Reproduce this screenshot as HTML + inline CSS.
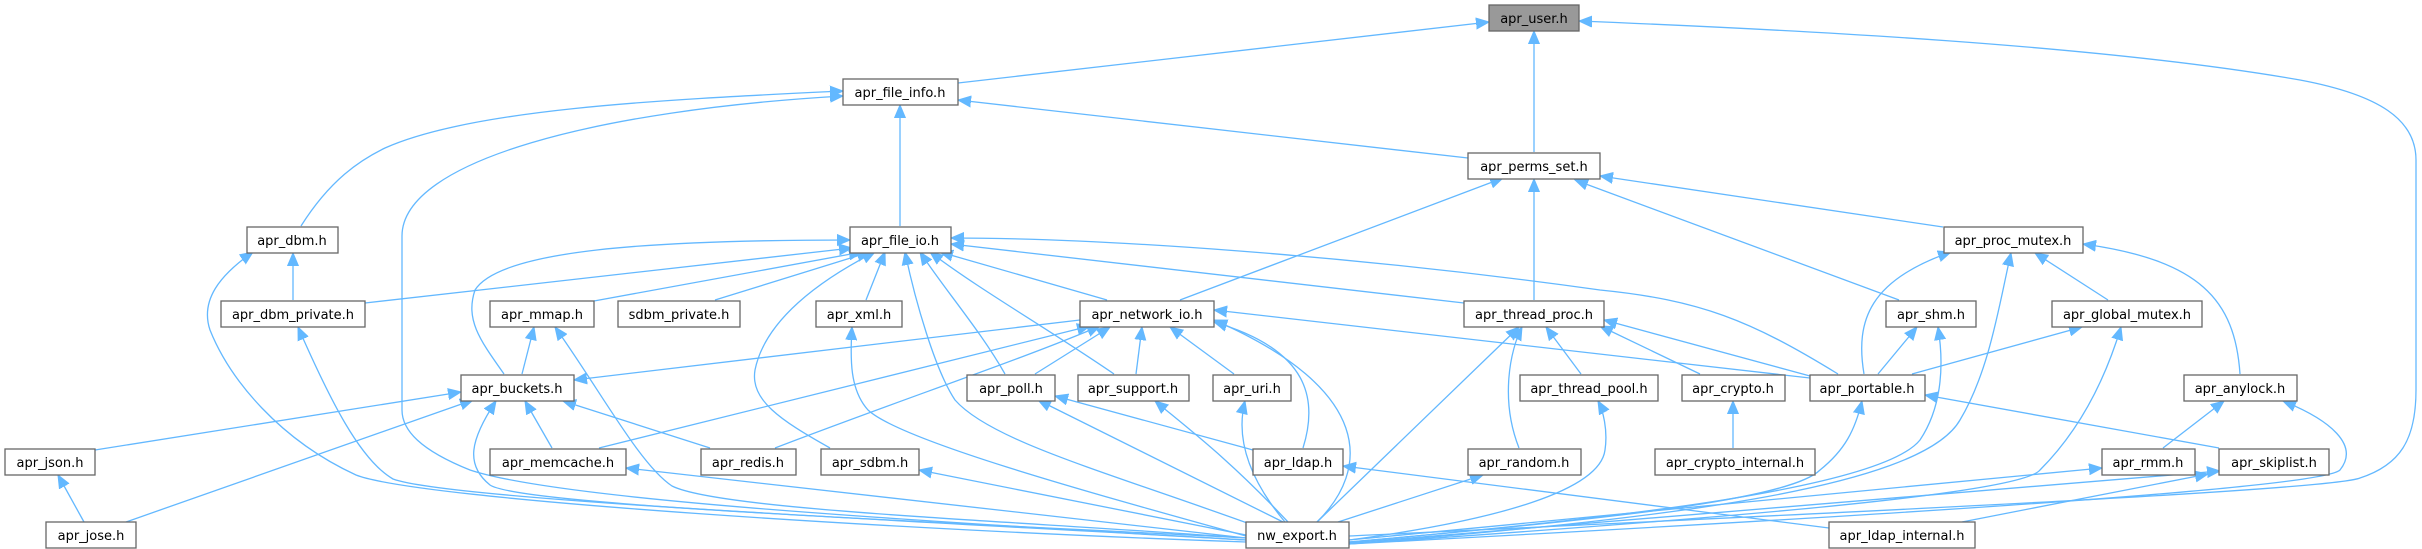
<!DOCTYPE html>
<html><head><meta charset="utf-8"><style>
html,body{margin:0;padding:0;background:#fff;}
svg{display:block;}
text{font-family:"DejaVu Sans","Liberation Sans",sans-serif;font-size:13px;fill:#000;}
.e{fill:none;stroke:#63b8ff;stroke-width:1.3;marker-end:url(#a);}
.n{fill:#fff;stroke:#666;stroke-width:1.3;}
</style></head><body>
<svg width="2422" height="549" viewBox="0 0 2422 549" xmlns="http://www.w3.org/2000/svg">
<defs><marker id="a" markerUnits="userSpaceOnUse" markerWidth="14" markerHeight="12" refX="13" refY="6" orient="auto"><path d="M0,0.5 L13,6 L0,11.5 Z" fill="#63b8ff" stroke="#63b8ff"/></marker></defs>
<g>
<path class="e" d="M958,83 L1489,22"/>
<path class="e" d="M1534,152 L1534,31"/>
<path class="e" d="M1349,536 C1900,510 2330,490 2360,478 C2400,465 2416,440 2416,390 L2416,160 C2416,120 2380,95 2300,80 C2100,45 1800,30 1579,21"/>
<path class="e" d="M301,226 C330,180 360,160 385,148 C470,110 650,100 843,91"/>
<path class="e" d="M1246,540 C900,520 560,500 470,470 C420,450 402,430 402,410 L402,236 C402,160 600,110 843,96"/>
<path class="e" d="M900,226 L900,105"/>
<path class="e" d="M1468,158 L958,100"/>
<path class="e" d="M1180,300 L1503,178"/>
<path class="e" d="M1534,300 L1534,179"/>
<path class="e" d="M1899,300 L1575,180"/>
<path class="e" d="M1943,227 L1600,176"/>
<path class="e" d="M504,374 C480,340 465,320 475,290 C500,250 650,240 850,240"/>
<path class="e" d="M365,303 L852,248"/>
<path class="e" d="M594,301 L862,252"/>
<path class="e" d="M715,300 L870,252"/>
<path class="e" d="M830,448 C780,420 750,400 755,370 C765,320 820,280 875,252"/>
<path class="e" d="M866,300 L885,252"/>
<path class="e" d="M1107,300 L940,252"/>
<path class="e" d="M1005,374 C980,330 945,290 920,252"/>
<path class="e" d="M1114,374 C1050,330 980,290 930,252"/>
<path class="e" d="M1250,524 C1100,470 990,440 955,400 C935,370 915,300 905,252"/>
<path class="e" d="M1464,303 L951,244"/>
<path class="e" d="M1838,374 C1750,320 1700,300 1600,290 C1350,255 1100,238 951,238"/>
<path class="e" d="M293,300 L293,253"/>
<path class="e" d="M1246,542 C900,530 420,500 356,475 C280,440 230,380 210,330 C200,300 220,275 253,252"/>
<path class="e" d="M1246,540 C900,520 450,500 393,479 C360,460 330,400 298,327"/>
<path class="e" d="M522,374 L534,327"/>
<path class="e" d="M1246,538 C1000,520 720,510 672,486 C640,465 600,390 555,327"/>
<path class="e" d="M95,450 L461,392"/>
<path class="e" d="M126,522 L473,400"/>
<path class="e" d="M552,448 L525,401"/>
<path class="e" d="M710,448 L563,401"/>
<path class="e" d="M1246,538 C900,520 520,505 490,485 C465,465 470,440 496,401"/>
<path class="e" d="M1080,320 L574,380"/>
<path class="e" d="M1246,538 L626,468"/>
<path class="e" d="M599,448 L1090,326"/>
<path class="e" d="M775,448 C900,400 1020,360 1100,326"/>
<path class="e" d="M1246,535 L919,470"/>
<path class="e" d="M1246,536 C1080,490 900,440 868,410 C850,390 850,360 852,327"/>
<path class="e" d="M1035,374 L1110,327"/>
<path class="e" d="M1136,374 L1142,327"/>
<path class="e" d="M1234,374 L1170,327"/>
<path class="e" d="M1303,448 C1318,400 1310,350 1214,322"/>
<path class="e" d="M1317,522 C1370,470 1375,390 1214,320"/>
<path class="e" d="M1810,378 L1214,310"/>
<path class="e" d="M1253,450 L1055,396"/>
<path class="e" d="M1283,522 L1038,400"/>
<path class="e" d="M1288,522 C1230,460 1190,430 1155,401"/>
<path class="e" d="M1285,522 C1250,480 1235,440 1245,401"/>
<path class="e" d="M1317,522 L1519,327"/>
<path class="e" d="M1519,448 C1500,400 1510,350 1522,327"/>
<path class="e" d="M1581,374 L1546,327"/>
<path class="e" d="M1700,374 L1600,326"/>
<path class="e" d="M1810,376 L1604,320"/>
<path class="e" d="M1338,522 L1483,475"/>
<path class="e" d="M1349,540 C1500,520 1600,490 1605,450 C1608,430 1603,410 1598,401"/>
<path class="e" d="M1733,448 L1733,401"/>
<path class="e" d="M1349,542 C1600,520 1790,500 1820,470 C1845,450 1855,430 1862,401"/>
<path class="e" d="M2219,448 L1925,395"/>
<path class="e" d="M1864,374 C1855,320 1870,280 1951,252"/>
<path class="e" d="M1878,374 L1917,327"/>
<path class="e" d="M1912,374 L2082,327"/>
<path class="e" d="M1349,542 C1600,520 1880,490 1920,440 C1940,410 1945,370 1938,327"/>
<path class="e" d="M1349,544 C1650,520 1920,490 1960,420 C1990,370 2000,300 2011,253"/>
<path class="e" d="M2108,300 L2035,253"/>
<path class="e" d="M2240,374 C2235,300 2200,260 2083,244"/>
<path class="e" d="M1349,544 C1700,520 2020,495 2040,470 C2080,430 2105,380 2121,327"/>
<path class="e" d="M2163,448 L2224,401"/>
<path class="e" d="M1349,544 C1800,520 2320,490 2340,470 C2360,445 2330,420 2283,401"/>
<path class="e" d="M1349,540 L2102,468"/>
<path class="e" d="M1349,543 L2220,471"/>
<path class="e" d="M1962,522 L2208,474"/>
<path class="e" d="M1829,528 L1343,466"/>
<path class="e" d="M84,522 L58,475"/>
</g>
<g>
<rect x="1489" y="5" width="90" height="26" fill="#999" stroke="#666" stroke-width="1.3"/><text x="1534" y="23" text-anchor="middle">apr_user.h</text>
<rect class="n" x="843" y="79" width="115" height="26"/><text x="900" y="97" text-anchor="middle">apr_file_info.h</text>
<rect class="n" x="1468" y="153" width="132" height="26"/><text x="1534" y="171" text-anchor="middle">apr_perms_set.h</text>
<rect class="n" x="247" y="227" width="91" height="26"/><text x="292" y="245" text-anchor="middle">apr_dbm.h</text>
<rect class="n" x="850" y="227" width="101" height="26"/><text x="900" y="245" text-anchor="middle">apr_file_io.h</text>
<rect class="n" x="1944" y="227" width="139" height="26"/><text x="2013" y="245" text-anchor="middle">apr_proc_mutex.h</text>
<rect class="n" x="221" y="301" width="144" height="26"/><text x="293" y="319" text-anchor="middle">apr_dbm_private.h</text>
<rect class="n" x="490" y="301" width="104" height="26"/><text x="542" y="319" text-anchor="middle">apr_mmap.h</text>
<rect class="n" x="618" y="301" width="122" height="26"/><text x="679" y="319" text-anchor="middle">sdbm_private.h</text>
<rect class="n" x="816" y="301" width="86" height="26"/><text x="859" y="319" text-anchor="middle">apr_xml.h</text>
<rect class="n" x="1080" y="301" width="134" height="26"/><text x="1147" y="319" text-anchor="middle">apr_network_io.h</text>
<rect class="n" x="1464" y="301" width="140" height="26"/><text x="1534" y="319" text-anchor="middle">apr_thread_proc.h</text>
<rect class="n" x="1886" y="301" width="90" height="26"/><text x="1931" y="319" text-anchor="middle">apr_shm.h</text>
<rect class="n" x="2052" y="301" width="150" height="26"/><text x="2127" y="319" text-anchor="middle">apr_global_mutex.h</text>
<rect class="n" x="461" y="375" width="113" height="26"/><text x="517" y="393" text-anchor="middle">apr_buckets.h</text>
<rect class="n" x="967" y="375" width="88" height="26"/><text x="1011" y="393" text-anchor="middle">apr_poll.h</text>
<rect class="n" x="1078" y="375" width="111" height="26"/><text x="1133" y="393" text-anchor="middle">apr_support.h</text>
<rect class="n" x="1213" y="375" width="78" height="26"/><text x="1252" y="393" text-anchor="middle">apr_uri.h</text>
<rect class="n" x="1520" y="375" width="138" height="26"/><text x="1589" y="393" text-anchor="middle">apr_thread_pool.h</text>
<rect class="n" x="1682" y="375" width="103" height="26"/><text x="1733" y="393" text-anchor="middle">apr_crypto.h</text>
<rect class="n" x="1810" y="375" width="115" height="26"/><text x="1867" y="393" text-anchor="middle">apr_portable.h</text>
<rect class="n" x="2184" y="375" width="113" height="26"/><text x="2240" y="393" text-anchor="middle">apr_anylock.h</text>
<rect class="n" x="5" y="449" width="90" height="26"/><text x="50" y="467" text-anchor="middle">apr_json.h</text>
<rect class="n" x="490" y="449" width="136" height="26"/><text x="558" y="467" text-anchor="middle">apr_memcache.h</text>
<rect class="n" x="701" y="449" width="95" height="26"/><text x="748" y="467" text-anchor="middle">apr_redis.h</text>
<rect class="n" x="821" y="449" width="98" height="26"/><text x="870" y="467" text-anchor="middle">apr_sdbm.h</text>
<rect class="n" x="1253" y="449" width="90" height="26"/><text x="1298" y="467" text-anchor="middle">apr_ldap.h</text>
<rect class="n" x="1468" y="449" width="113" height="26"/><text x="1524" y="467" text-anchor="middle">apr_random.h</text>
<rect class="n" x="1655" y="449" width="160" height="26"/><text x="1735" y="467" text-anchor="middle">apr_crypto_internal.h</text>
<rect class="n" x="2102" y="449" width="93" height="26"/><text x="2148" y="467" text-anchor="middle">apr_rmm.h</text>
<rect class="n" x="2219" y="449" width="110" height="26"/><text x="2274" y="467" text-anchor="middle">apr_skiplist.h</text>
<rect class="n" x="46" y="522" width="90" height="26"/><text x="91" y="540" text-anchor="middle">apr_jose.h</text>
<rect class="n" x="1246" y="522" width="103" height="26"/><text x="1297" y="540" text-anchor="middle">nw_export.h</text>
<rect class="n" x="1829" y="522" width="146" height="26"/><text x="1902" y="540" text-anchor="middle">apr_ldap_internal.h</text>
</g>
</svg>
</body></html>
